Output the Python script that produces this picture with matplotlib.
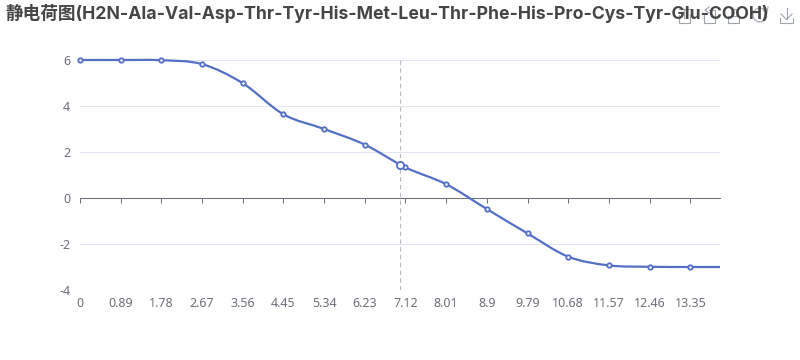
import numpy as np
import matplotlib
matplotlib.use('Agg')
import matplotlib.pyplot as plt
from matplotlib.lines import Line2D
from matplotlib.path import Path
from matplotlib.patches import PathPatch, Arc

plt.rcParams['font.family'] = ['Noto Sans', 'Noto Sans CJK SC', 'DejaVu Sans']

titre = '静电荷图(H2N-Ala-Val-Asp-Thr-Tyr-His-Met-Leu-Thr-Phe-His-Pro-Cys-Tyr-Glu-COOH)'

# valeurs
ph = [0, 0.89, 1.78, 2.67, 3.56, 4.45, 5.34, 6.23, 7.12, 8.01, 8.9, 9.79,
      10.68, 11.57, 12.46, 13.35, 14]
charge = [6.0, 6.0, 5.99, 5.82, 4.99, 3.64, 3.0, 2.32, 1.33, 0.6, -0.48, -1.54,
          -2.55, -2.93, -2.99, -3.0, -3.0]
ph_survol = 7.01
charge_survol = 1.43
yticks = [-4, -2, 0, 2, 4, 6]

BLEU = '#5470c6'
GRIS = '#6e7079'
GRILLE = '#e0e6f1'
ICONE = '#a0a4ad'


def courbe_lisse(x, y):
    """Chemin de Bezier passant par les points (lissage type echarts)"""
    x = np.array(x)
    y = np.array(y)
    dy = np.gradient(y, x)
    sommets = [(x[0], y[0])]
    codes = [Path.MOVETO]
    for i in range(len(x) - 1):
        h = (x[i + 1] - x[i]) / 3
        sommets += [(x[i] + h, y[i] + dy[i] * h),
                    (x[i + 1] - h, y[i + 1] - dy[i + 1] * h),
                    (x[i + 1], y[i + 1])]
        codes += [Path.CURVE4] * 3
    return Path(sommets, codes)


def trait(fig, xs, ys):
    """Trait d'icone, coordonnees en pixels depuis le haut gauche"""
    fig.add_artist(Line2D([v / 800 for v in xs], [1 - v / 360 for v in ys],
                          color=ICONE, linewidth=0.8, zorder=1))


def dessiner_icones(fig):
    """Boite a outils en haut a droite"""
    # zoom
    trait(fig, [679, 679, 690, 690], [15, 23, 23, 15])
    trait(fig, [684, 684], [9, 18])
    trait(fig, [679, 690], [9, 9])
    # retour zoom
    trait(fig, [704, 704, 715, 715, 709], [15, 23, 23, 10, 10])
    trait(fig, [709, 705, 709], [7, 10, 13])
    # zone
    trait(fig, [728, 728, 739, 739, 728], [16, 23, 23, 16, 16])
    trait(fig, [731, 731, 736, 736], [16, 9, 9, 16])
    # restaurer
    fig.add_artist(Arc((760 / 800, 1 - 15 / 360), 14 / 800, 14 / 360, theta1=20, theta2=340,
                       edgecolor=ICONE, linewidth=0.8, transform=fig.transFigure))
    trait(fig, [763, 767, 768], [10, 12, 7])
    # enregistrer
    trait(fig, [780, 780, 793, 793], [18, 23, 23, 18])
    trait(fig, [786.5, 786.5], [8, 19])
    trait(fig, [781, 786.5, 792], [14, 19.5, 14])


fig = plt.figure(figsize=(8, 3.6), dpi=100)
ax = fig.add_axes([80 / 800, 1 - 290 / 360, 640 / 800, 230 / 360])
ax.set_xlim(0, 14)
ax.set_ylim(-4, 6)

for s in ['top', 'right', 'left']:
    ax.spines[s].set_visible(False)
ax.spines['bottom'].set_position(('data', 0))
ax.spines['bottom'].set_color(GRIS)
ax.spines['bottom'].set_linewidth(0.75)

ax.set_yticks(yticks)
ax.grid(True, axis='y', color=GRILLE, linewidth=0.75)
ax.set_axisbelow(True)
ax.tick_params(axis='y', length=0, pad=7, labelsize=9, labelcolor=GRIS)
ax.set_yticklabels([str(v) for v in yticks])

ticks_x = ph[:-1]
ax.set_xticks(ticks_x)
ax.tick_params(axis='x', length=3.5, width=0.75, color=GRIS, labelbottom=False, direction='out')
# les labels restent en bas du graphique
for v in ticks_x:
    ax.annotate(f'{v:g}', (v, 0), xycoords=('data', 'axes fraction'), xytext=(0, -5),
                textcoords='offset points', ha='center', va='top', fontsize=9, color=GRIS)

ax.axvline(ph_survol, color='#b6bac6', linewidth=0.8, linestyle=(0, (4, 3)), zorder=1)

ax.add_patch(PathPatch(courbe_lisse(ph, charge), fill=False, edgecolor=BLEU, linewidth=1.6,
                       zorder=3, clip_on=False))
ax.plot(ph[:-1], charge[:-1], linestyle='none', marker='o', markersize=3.2, markerfacecolor='white',
        markeredgecolor=BLEU, markeredgewidth=1.3, zorder=4, clip_on=False)
ax.plot([ph_survol], [charge_survol], linestyle='none', marker='o', markersize=5.2,
        markerfacecolor='white', markeredgecolor=BLEU, markeredgewidth=1.3, zorder=4)

dessiner_icones(fig)

fig.text(5 / 800, 1 - 13.5 / 360, titre, fontsize=12.7, fontweight='bold', color='#464646',
         family=['Inter', 'Noto Sans CJK SC'], ha='left', va='center', zorder=5)

fig.savefig('out.png', dpi=100)
